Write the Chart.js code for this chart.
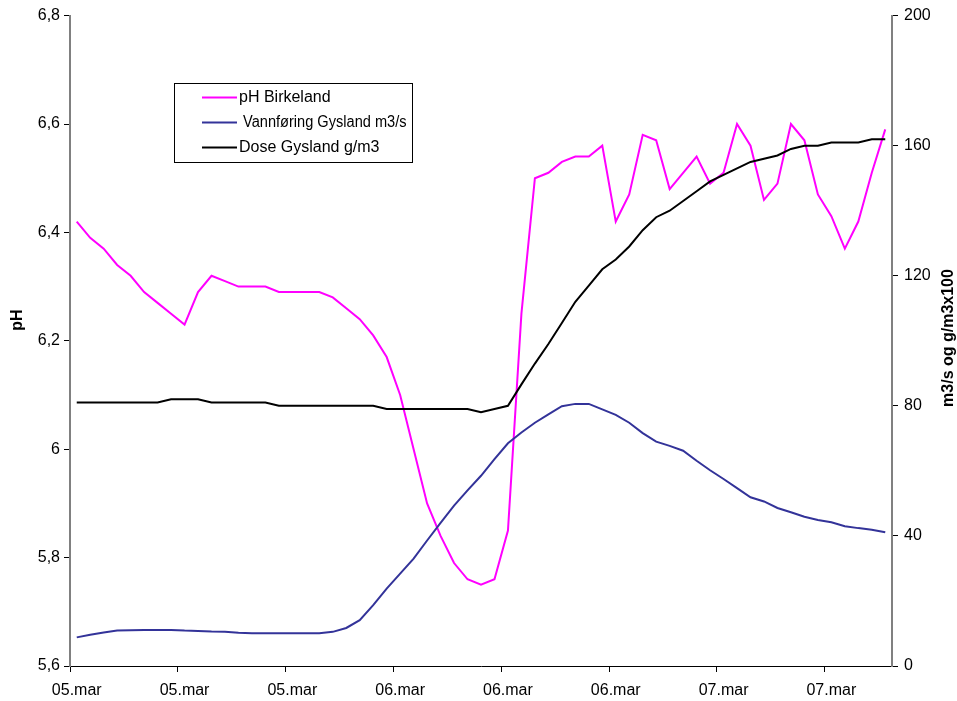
<!DOCTYPE html>
<html>
<head>
<meta charset="utf-8">
<script src="https://cdn.jsdelivr.net/npm/chart.js@4/dist/chart.umd.min.js"></script>
<style>
  html, body { margin: 0; padding: 0; background: #fff; }
  #wrap { width: 957px; height: 701px; }
</style>
</head>
<body>
<div id="wrap"><canvas id="phChart" width="957" height="701"></canvas></div>
<script>
// ── pH Birkeland / Gysland – data ──
const phBirkeland = [
  6.42, 6.39, 6.37, 6.34, 6.32, 6.29, 6.27, 6.25, 6.23, 6.29,
  6.32, 6.31, 6.30, 6.30, 6.30, 6.29, 6.29, 6.29, 6.29, 6.28,
  6.26, 6.24, 6.21, 6.17, 6.10, 6.00, 5.90, 5.84, 5.79, 5.76,
  5.75, 5.76, 5.85, 6.25, 6.50, 6.51, 6.53, 6.54, 6.54, 6.56,
  6.42, 6.47, 6.58, 6.57, 6.48, 6.51, 6.54, 6.49, 6.51, 6.60,
  6.56, 6.46, 6.49, 6.60, 6.57, 6.47, 6.43, 6.37, 6.42, 6.51,
  6.59
];
const vannforingGysland = [
  8.8, 9.6, 10.3, 10.9, 11.0, 11.1, 11.1, 11.1, 10.9, 10.8,
  10.6, 10.5, 10.2, 10.1, 10.1, 10.1, 10.1, 10.1, 10.1, 10.5,
  11.7, 14.1, 18.7, 23.8, 28.4, 33.0, 38.6, 44.0, 49.3, 54.0,
  58.5, 63.6, 68.5, 71.8, 74.8, 77.4, 79.9, 80.6, 80.6, 78.9,
  77.2, 74.8, 71.6, 69.0, 67.7, 66.2, 63.1, 60.2, 57.5, 54.7,
  51.9, 50.6, 48.6, 47.3, 45.9, 44.9, 44.2, 43.0, 42.4, 41.9,
  41.1
];
const doseGysland = [
  81, 81, 81, 81, 81, 81, 81, 82, 82, 82,
  81, 81, 81, 81, 81, 80, 80, 80, 80, 80,
  80, 80, 80, 79, 79, 79, 79, 79, 79, 79,
  78, 79, 80, 86.6, 93, 99, 105.5, 112, 117, 122,
  125, 129, 134, 138, 140, 143, 146, 149, 151, 153,
  155, 156, 157, 159, 160, 160, 161, 161, 161, 162,
  162
];
const days = ['05.mar', '06.mar', '07.mar'];
const pointsPerDay = 24;   // hourly readings
const labelStep = 8;       // a date label every 8th reading
const phMin = 5.6, phMax = 6.8, phStep = 0.2;
const rightMin = 0, rightMax = 200, rightStep = 40;

const categories = phBirkeland.map((_, i) => days[Math.floor(i / pointsPerDay)]);

const FONT = '"Liberation Sans", Arial, sans-serif';

// legend box + axis titles drawn by hand (Excel style)
const extras = {
  id: 'extras',
  afterDraw(chart) {
    const ctx = chart.ctx;
    ctx.save();
    // legend
    const bx = 174.5, by = 83.5, bw = 238, bh = 79;
    ctx.fillStyle = '#fff';
    ctx.fillRect(bx, by, bw, bh);
    ctx.strokeStyle = '#000';
    ctx.lineWidth = 1;
    ctx.strokeRect(bx, by, bw, bh);
    ctx.font = '16px ' + FONT;
    ctx.textBaseline = 'middle';
    ctx.textAlign = 'left';
    chart.data.datasets.forEach((ds, i) => {
      const y = 97.5 + i * 25;
      ctx.strokeStyle = ds.borderColor;
      ctx.lineWidth = 2;
      ctx.beginPath();
      ctx.moveTo(202, y);
      ctx.lineTo(237, y);
      ctx.stroke();
      ctx.fillStyle = '#000';
      ctx.fillText(ds.label, 239, y, bx + bw - 245);
    });
    // axis titles
    ctx.font = 'bold 16px ' + FONT;
    ctx.textAlign = 'center';
    ctx.fillStyle = '#000';
    ctx.translate(18, 320);
    ctx.rotate(-Math.PI / 2);
    ctx.fillText('pH', 0, 0);
    ctx.setTransform(1, 0, 0, 1, 0, 0);
    ctx.translate(949, 338);
    ctx.rotate(-Math.PI / 2);
    ctx.fillText('m3/s og g/m3x100', 0, 0);
    ctx.restore();
  }
};

new Chart(document.getElementById('phChart').getContext('2d'), {
  type: 'line',
  data: {
    labels: categories,
    datasets: [
      { label: 'pH Birkeland', data: phBirkeland, yAxisID: 'y', borderColor: '#ff00ff', order: 3 },
      { label: ' Vannføring Gysland m3/s', data: vannforingGysland, yAxisID: 'y1', borderColor: '#333399', order: 2 },
      { label: 'Dose Gysland g/m3', data: doseGysland, yAxisID: 'y1', borderColor: '#000000', order: 1 }
    ]
  },
  options: {
    responsive: false,
    animation: false,
    layout: { padding: { top: 12, left: 0, right: 0, bottom: 0 } },
    elements: {
      line: { borderWidth: 2, tension: 0, fill: false },
      point: { radius: 0 }
    },
    plugins: { legend: { display: false }, tooltip: { enabled: false } },
    scales: {
      x: {
        type: 'category',
        offset: true,
        afterFit: s => { s.height = 35; },
        border: { color: '#000', width: 1 },
        grid: {
          offset: true, drawOnChartArea: false, tickLength: 6,
          color: c => (c.index % labelStep === 0 ? '#000' : 'rgba(0,0,0,0)')
        },
        ticks: {
          autoSkip: false, maxRotation: 0, minRotation: 0, padding: 9,
          color: '#000', font: { family: FONT, size: 16 },
          callback: (v, i) => (i % labelStep === 0 ? categories[i] : '')
        }
      },
      y: {
        position: 'left',
        min: phMin, max: phMax,
        afterFit: s => { s.width = 70; },
        border: { color: '#808080', width: 2 },
        grid: { drawOnChartArea: false, tickLength: 6, color: '#000' },
        ticks: {
          stepSize: phStep, padding: 4, color: '#000',
          font: { family: FONT, size: 16 },
          callback: v => String(Number(v.toFixed(1))).replace('.', ',')
        }
      },
      y1: {
        position: 'right',
        min: rightMin, max: rightMax,
        afterFit: s => { s.width = 65; },
        border: { color: '#808080', width: 2 },
        grid: { drawOnChartArea: false, tickLength: 6, color: '#000' },
        ticks: {
          stepSize: rightStep, padding: 6, color: '#000',
          font: { family: FONT, size: 16 }
        }
      }
    }
  },
  plugins: [extras]
});
</script>
</body>
</html>
